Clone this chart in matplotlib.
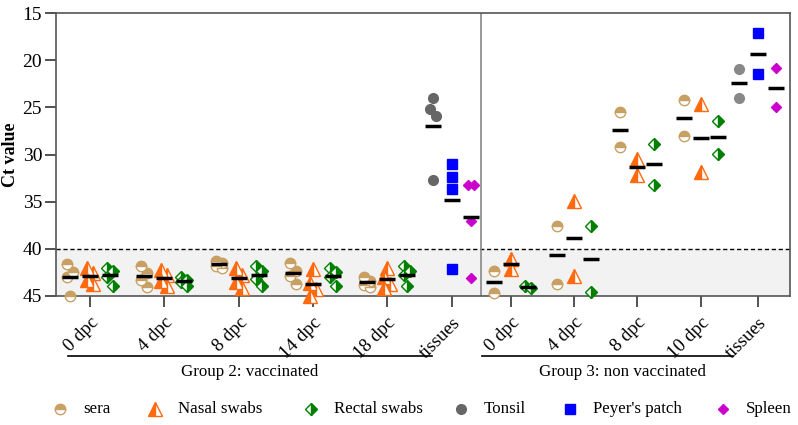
import numpy as np
import matplotlib
matplotlib.use("Agg")
import matplotlib.pyplot as plt
import matplotlib.transforms as mtransforms
from matplotlib.lines import Line2D

plt.rcParams['font.family'] = ['Liberation Serif', 'DejaVu Serif']

# ---- data (Ct values) ----
g2_days = ['0 dpc', '4 dpc', '8 dpc', '14 dpc', '18 dpc']
g3_days = ['0 dpc', '4 dpc', '8 dpc', '10 dpc']

g2_sera = [[41.6, 42.5, 43.0, 45.0], [41.8, 42.6, 43.3, 44.0], [41.3, 41.5, 41.8, 42.0],
           [41.5, 42.3, 42.9, 43.7], [43.0, 43.4, 43.8, 44.0]]
g2_nasal = [[42.0, 42.6, 43.3, 43.7], [42.2, 42.8, 43.4, 43.9], [42.0, 42.8, 43.5, 44.2],
            [42.1, 43.6, 44.3, 45.0], [42.0, 43.0, 43.7, 44.2]]
g2_rectal = [[42.0, 42.4, 43.0, 43.9], [43.0, 43.3, 43.5, 43.9], [41.8, 42.4, 43.2, 43.9],
             [42.0, 42.5, 43.0, 43.9], [41.8, 42.4, 42.8, 43.9]]
g2_tonsil = [24.0, 25.2, 25.9, 32.7]
g2_peyer = [31.0, 32.4, 33.7, 42.1]
g2_spleen = [33.2, 33.2, 37.0, 43.1]

g3_sera = [[42.4, 44.7], [37.6, 43.7], [25.5, 29.2], [24.2, 28.0]]
g3_nasal = [[41.1, 42.1], [34.9, 42.9], [30.5, 32.2], [24.6, 31.9]]
g3_rectal = [[43.9, 44.1], [37.6, 44.6], [28.9, 33.2], [26.4, 29.9]]
g3_tonsil = [20.9, 24.0]
g3_peyer = [17.1, 21.5]
g3_spleen = [20.8, 25.0]

cutoff = 40

# ---- styles ----
sty = {
    'sera': dict(marker='o', fillstyle='top', color='#C9A063', markerfacecoloralt='white', ms=7.5),
    'nasal': dict(marker='^', fillstyle='left', color='#FF6A10', markerfacecoloralt='white', ms=9.5),
    'rectal': dict(marker='D', fillstyle='right', color='#008000', markerfacecoloralt='white', ms=6.5),
    'tonsil': dict(marker='o', color='#666666', ms=7),
    'peyer': dict(marker='s', color='#0000FF', ms=7),
    'spleen': dict(marker='D', color='#CC00CC', ms=5.5),
}

# tick positions (layout, in pixel-like units)
g2_pos = [90, 164, 239, 313, 387]
g2_tis = 452
g3_pos = [511, 574, 637, 701]
g3_tis = 758


def spread(vals, w=3.0):
    # small horizontal offsets for points that would sit on top of each other
    order = np.argsort(vals)
    offs = np.zeros(len(vals))
    k = 0
    for i in range(1, len(order)):
        if abs(vals[order[i]] - vals[order[i - 1]]) < 0.9:
            k += 1
            offs[order[i]] = w if k % 2 else -w
            if k == 1:
                offs[order[i - 1]] = -w
        else:
            k = 0
    return offs


def draw(ax, x, vals, key, color=None):
    vals = np.array(vals)
    xs = x + spread(vals)
    s = dict(sty[key])
    if color:
        s['color'] = color
    ax.plot(xs, vals, ls='none', mec=s['color'], mew=1.0, clip_on=False, zorder=3, **s)
    ax.plot([x], [np.mean(vals)], marker='_', ms=12, mew=2.5, color='black', ls='none',
            clip_on=False, zorder=4)


fig = plt.figure(figsize=(7.98, 4.25), dpi=100)
ax = fig.add_axes([56 / 798, (425 - 296) / 425, (790 - 56) / 798, (296 - 13) / 425])

ax.axhspan(cutoff, 45, color='#F2F2F2', zorder=0)
ax.axhline(cutoff, color='black', ls=(0, (3, 2)), lw=1, zorder=1)
ax.axvline(481, color='#888888', lw=1.2, zorder=1)

for i, p in enumerate(g2_pos):
    draw(ax, p - 20, g2_sera[i], 'sera')
    draw(ax, p, g2_nasal[i], 'nasal')
    draw(ax, p + 20, g2_rectal[i], 'rectal')
draw(ax, g2_tis - 19, g2_tonsil, 'tonsil')
draw(ax, g2_tis, g2_peyer, 'peyer')
draw(ax, g2_tis + 19, g2_spleen, 'spleen')

for i, p in enumerate(g3_pos):
    draw(ax, p - 17, g3_sera[i], 'sera')
    draw(ax, p, g3_nasal[i], 'nasal')
    draw(ax, p + 17, g3_rectal[i], 'rectal')
draw(ax, g3_tis - 19, g3_tonsil, 'tonsil', color='#888888')
draw(ax, g3_tis, g3_peyer, 'peyer')
draw(ax, g3_tis + 18, g3_spleen, 'spleen')

ax.set_xlim(56, 790)
ax.set_ylim(45, 15)
ax.set_yticks([15, 20, 25, 30, 35, 40, 45])
ax.set_xticks(g2_pos + [g2_tis] + g3_pos + [g3_tis])
ax.set_xticklabels(g2_days + ['tissues'] + g3_days + ['tissues'], rotation=45,
                   ha='right', va='top', rotation_mode='anchor')
shift = mtransforms.ScaledTranslation(6 / 100, 0, fig.dpi_scale_trans)
for lbl in ax.get_xticklabels():
    lbl.set_transform(lbl.get_transform() + shift)
ax.tick_params(axis='y', labelsize=14, length=8, width=1.2, color='#333333', pad=2)
ax.tick_params(axis='x', labelsize=13.5, length=8, width=1.2, color='#333333', pad=5)
ax.set_ylabel('Ct value', fontsize=13, fontweight='bold')
ax.yaxis.set_label_coords(-0.051, 0.5)
for sp in ax.spines.values():
    sp.set_color('#555555')
    sp.set_linewidth(1.2)

# group brackets below the axis
tr = ax.get_xaxis_transform()
ax.plot([68, 432], [-0.212, -0.212], transform=tr, color='black', lw=1.2, clip_on=False)
ax.plot([482, 733], [-0.212, -0.212], transform=tr, color='black', lw=1.2, clip_on=False)
ax.text(250, -0.27, 'Group 2: vaccinated', transform=tr, ha='center', va='center', fontsize=12.2)
ax.text(622, -0.27, 'Group 3: non vaccinated', transform=tr, ha='center', va='center', fontsize=12.2)

# legend row
leg_labels = ['sera', 'Nasal swabs', 'Rectal swabs', 'Tonsil', "Peyer's patch", 'Spleen']
leg_keys = ['sera', 'nasal', 'rectal', 'tonsil', 'peyer', 'spleen']
leg_mx = [60, 155, 311, 461, 570, 723]
ly = 1 - 409 / 425
for lab, key, mx in zip(leg_labels, leg_keys, leg_mx):
    s = sty[key]
    fig.add_artist(Line2D([mx / 798], [ly], transform=fig.transFigure, ls='none',
                          mec=s['color'], mew=1.0, **s))
    fig.text((mx + 23) / 798, ly, lab, ha='left', va='center', fontsize=12.2)

fig.savefig('out.png', dpi=100)
